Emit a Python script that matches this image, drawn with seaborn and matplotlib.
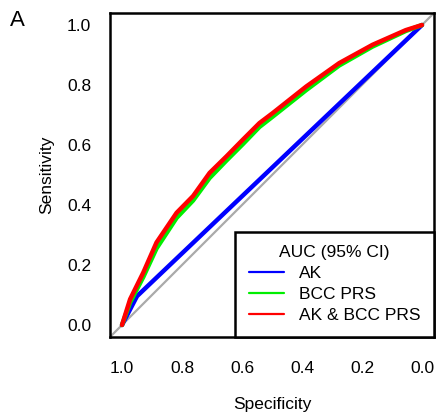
import matplotlib
matplotlib.use("Agg")
import matplotlib.pyplot as plt
import seaborn as sns
import pandas as pd
from matplotlib.lines import Line2D

# Data
ak_spec = [1.0, 0.95, 0.0]
ak_sens = [0.0, 0.096, 1.0]

bcc_spec = [1.0, 0.973, 0.929, 0.885, 0.818, 0.763, 0.708, 0.652, 0.597, 0.542, 0.497, 0.386, 0.276, 0.165, 0.054, 0.0]
bcc_sens = [0.0, 0.075, 0.160, 0.255, 0.357, 0.415, 0.490, 0.548, 0.603, 0.660, 0.695, 0.783, 0.865, 0.928, 0.980, 1.0]

both_spec = [1.0, 0.973, 0.929, 0.885, 0.818, 0.763, 0.708, 0.652, 0.597, 0.542, 0.497, 0.386, 0.276, 0.165, 0.054, 0.0]
both_sens = [0.0, 0.086, 0.175, 0.275, 0.374, 0.430, 0.507, 0.562, 0.618, 0.673, 0.707, 0.795, 0.873, 0.934, 0.983, 1.0]

models = ["AK", "BCC PRS", "AK & BCC PRS"]
colors = ["#0000ff", "#00ee00", "#ff0000"]
ticks = [1.0, 0.8, 0.6, 0.4, 0.2, 0.0]
tick_labels = ["1.0", "0.8", "0.6", "0.4", "0.2", "0.0"]

df = pd.concat([
    pd.DataFrame({"spec": ak_spec, "sens": ak_sens, "model": models[0]}),
    pd.DataFrame({"spec": bcc_spec, "sens": bcc_sens, "model": models[1]}),
    pd.DataFrame({"spec": both_spec, "sens": both_sens, "model": models[2]}),
], ignore_index=True)

sns.set_style("white")
plt.rcParams["font.family"] = ["Liberation Sans", "DejaVu Sans"]
plt.rcParams["text.color"] = "black"
plt.rcParams["axes.labelcolor"] = "black"

FS = 12.5

fig = plt.figure(figsize=(4.39, 4.13), dpi=100)
ax = fig.add_axes([110/439, 1-337/413, (434-110)/439, (337-13)/413])

ax.axline((1, 0), (0, 1), color="#aaaaaa", lw=1.6, zorder=1)
sns.lineplot(data=df, x="spec", y="sens", hue="model", hue_order=models,
             palette=colors, sort=False, estimator=None, lw=3.2,
             legend=False, ax=ax, zorder=2)

ax.set_xlim(1.04, -0.04)
ax.set_ylim(-0.04, 1.04)
ax.set_xticks(ticks)
ax.set_xticklabels(tick_labels)
ax.set_yticks(ticks)
ax.set_yticklabels(tick_labels)
ax.tick_params(axis="both", direction="out", length=7.5, width=1.6,
               labelsize=FS, color="black", labelcolor="black")
ax.tick_params(axis="x", pad=10)
ax.tick_params(axis="y", pad=6)
for s in ax.spines.values():
    s.set_visible(True)
    s.set_color("black")
    s.set_linewidth(1.8)

ax.set_xlabel("Specificity", fontsize=FS, labelpad=15, color="black")
ax.set_ylabel("Sensitivity", fontsize=FS, labelpad=9, color="black")

handles = [Line2D([0], [0], color=c, lw=1.6) for c in colors]
leg = ax.legend(handles, models, title="AUC (95% CI)", loc="lower right",
                borderaxespad=0, fontsize=FS, title_fontsize=FS,
                frameon=True, fancybox=False, handlelength=2.0,
                handletextpad=0.85, labelspacing=0.33, borderpad=0.8)
leg.get_frame().set_edgecolor("black")
leg.get_frame().set_linewidth(1.8)
leg.get_frame().set_alpha(1)
for t in leg.get_texts():
    t.set_color("black")
leg.get_title().set_color("black")

fig.text(17/439, 1-20/413, "A", fontsize=16, ha="center", va="center")

fig.savefig("out.png", dpi=100)
